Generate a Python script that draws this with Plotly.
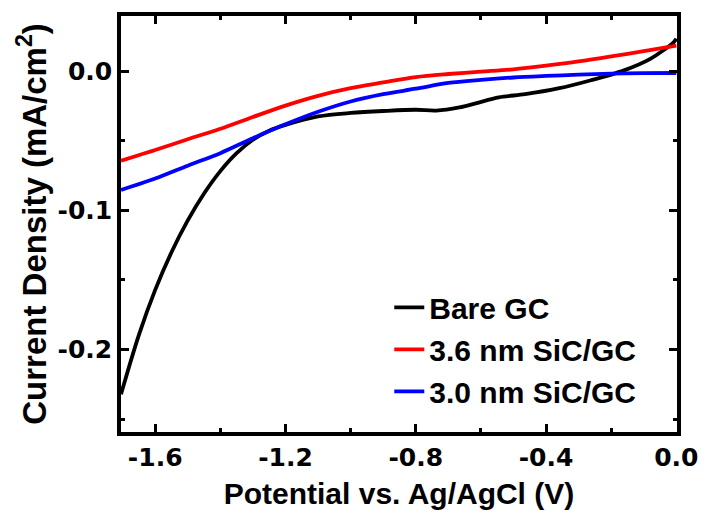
import plotly.graph_objects as go

# Linear sweep voltammetry: potential (V vs. Ag/AgCl) and current density (mA/cm^2)
bare_x = [-1.705, -1.65, -1.60, -1.55, -1.50, -1.45, -1.40, -1.35, -1.30, -1.25,
          -1.20, -1.10, -1.00, -0.90, -0.80, -0.737, -0.666, -0.616, -0.545, -0.464,
          -0.363, -0.262, -0.161, -0.080, -0.0085, 0.0]
bare_y = [-0.2322, -0.1895, -0.1571, -0.1301, -0.1072, -0.0878, -0.0717, -0.0588, -0.0492, -0.0427,
          -0.0385, -0.0324, -0.0299, -0.0285, -0.0276, -0.0282, -0.0259, -0.0230, -0.0187, -0.0164,
          -0.0123, -0.0064, 0.0007, 0.0090, 0.0209, 0.0235]

sic36_x = [-1.705, -1.60, -1.50, -1.40, -1.30, -1.20, -1.10, -1.00, -0.90, -0.80,
           -0.70, -0.60, -0.50, -0.40, -0.30, -0.20, -0.10, 0.0]
sic36_y = [-0.0642, -0.0565, -0.0488, -0.0413, -0.0328, -0.0246, -0.0176, -0.0121, -0.0080, -0.0041,
           -0.0019, -0.0002, 0.0015, 0.0041, 0.0071, 0.0107, 0.0146, 0.0185]

sic30_x = [-1.705, -1.60, -1.50, -1.40, -1.30, -1.20, -1.10, -1.00, -0.90, -0.80,
           -0.70, -0.60, -0.50, -0.40, -0.30, -0.20, -0.10, 0.0]
sic30_y = [-0.0853, -0.0771, -0.0678, -0.0588, -0.0481, -0.0381, -0.0291, -0.0217, -0.0164, -0.0125,
           -0.0083, -0.0061, -0.0044, -0.0033, -0.0024, -0.0016, -0.0013, -0.0012]

x_tick_vals = [-1.6, -1.2, -0.8, -0.4, 0.0]
x_tick_text = ["-1.6", "-1.2", "-0.8", "-0.4", "0.0"]
y_tick_vals = [-0.2, -0.1, 0.0]
y_tick_text = ["-0.2", "-0.1", "0.0"]

series = [
    ("Bare GC", bare_x, bare_y, "#000000"),
    ("3.6 nm SiC/GC", sic36_x, sic36_y, "#ff0000"),
    ("3.0 nm SiC/GC", sic30_x, sic30_y, "#0000ff"),
]

fig = go.Figure()
for name, xs, ys, color in series:
    fig.add_trace(go.Scatter(
        x=xs, y=ys, name=f"<b>{name}</b>", mode="lines",
        line=dict(color=color, width=3.8, shape="spline", smoothing=0.9),
    ))

sans = "Liberation Sans, Arial, sans-serif"
tick_font = dict(family="DejaVu Sans, sans-serif", size=25, color="black", weight="bold")

axis_common = dict(
    showline=True, linewidth=3.5, linecolor="black", mirror="allticks",
    ticks="inside", ticklen=8, tickwidth=3, tickcolor="black",
    showgrid=False, zeroline=False, tickfont=tick_font,
)

fig.update_xaxes(
    range=[-1.705, 0.002],
    tickmode="array", tickvals=x_tick_vals, ticktext=x_tick_text,
    minor=dict(dtick=0.2, tick0=0, ticks="inside", ticklen=4.5, tickwidth=3, tickcolor="black"),
    title=dict(text="<b>Potential vs. Ag/AgCl (V)</b>",
               font=dict(family=sans, size=30, color="black"), standoff=13),
    **axis_common,
)
fig.update_yaxes(
    range=[-0.2593, 0.0398],
    tickmode="array", tickvals=y_tick_vals, ticktext=y_tick_text,
    minor=dict(dtick=0.05, tick0=0, ticks="inside", ticklen=4.5, tickwidth=3, tickcolor="black"),
    title=dict(text="<b>Current Density (mA/cm<sup>2</sup>)</b>",
               font=dict(family=sans, size=33, color="black"), standoff=2),
    **axis_common,
)

fig.update_layout(
    width=710, height=518,
    margin=dict(l=121, r=27, t=15, b=83),
    paper_bgcolor="white", plot_bgcolor="white",
    showlegend=True,
    legend=dict(
        x=0.4825, y=0.362, xanchor="left", yanchor="top",
        bgcolor="rgba(0,0,0,0)", borderwidth=0,
        font=dict(family=sans, size=30, color="black"),
        itemwidth=30, tracegroupgap=0,
    ),
)

fig.write_html("out.html")
